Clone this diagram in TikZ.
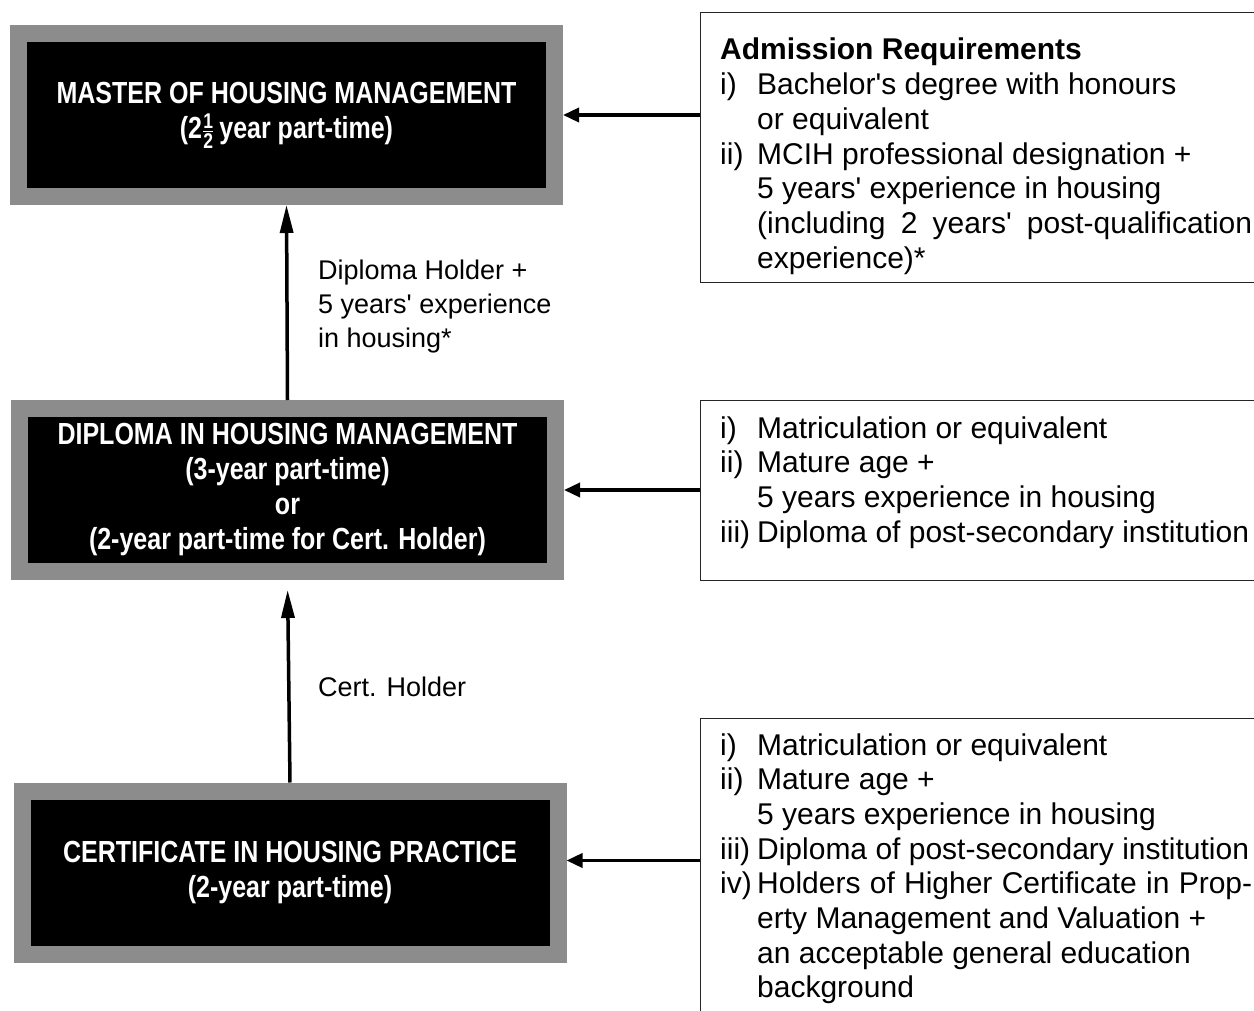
\documentclass[tikz,border=0pt]{standalone}
\usepackage{amsmath}
\usepackage{fontspec}
\setmainfont{Liberation Sans}[Ligatures=TeXOff]
\newfontfamily\boxfont[FakeStretch=0.82]{Liberation Sans}
\usetikzlibrary{arrows.meta}

\tikzset{
  course/.style={draw=black!45, line width=17pt, fill=black, text=white,
    font=\boxfont\bfseries\fontsize{30.5}{35}\selectfont, align=center,
    minimum width=536pt, minimum height=163pt, inner sep=0pt},
  reqbox/.style={draw=black!85, line width=1pt, anchor=north west,
    minimum width=600pt, inner sep=0pt},
  reqtext/.style={anchor=base west, inner sep=0pt,
    font=\fontsize{30}{34.7}\selectfont},
  route/.style={anchor=west, align=left, inner sep=0pt,
    font=\fontsize{27}{34}\selectfont},
  upflow/.style={line width=3.5pt, -{Triangle[length=28pt,width=13pt]}},
  inflow/.style={line width=3.5pt, -{Triangle[length=16pt,width=14pt]}}
}

\begin{document}
\begin{tikzpicture}[x=1pt,y=-1pt]
	\useasboundingbox (0,0) rectangle (1254,1011);
	\clip (0,0) rectangle (1254,1011);

	% the three courses
	\node[course] (master) at (286.5,115) {MASTER OF HOUSING MANAGEMENT\\
		(2$\frac{\text{1}}{\text{2}}$\,year part-time)};
	\node[course] (diploma) at (287.5,490) {DIPLOMA IN HOUSING MANAGEMENT\\
		(3-year part-time)\\ or\\ (2-year part-time for Cert. Holder)};
	\node[course] (cert) at (290,872.5) {CERTIFICATE IN HOUSING PRACTICE\\
		(2-year part-time)};

	% admission requirements
	\node[reqbox, minimum height=270pt] (req1) at (700,12) {};
	\node[reqtext] (req1txt) at (720,60) {\begin{tabular}[t]{@{}p{37pt}@{}l@{}}
		\multicolumn{2}{@{}l@{}}{\bfseries Admission Requirements}\\
		i) & Bachelor's degree with honours\\
		   & or equivalent\\
		ii) & MCIH professional designation +\\
		    & 5 years' experience in housing\\
		    & \makebox[495pt][s]{(including 2 years' post-qualification}\\
		    & experience)*
		\end{tabular}};

	\node[reqbox, minimum height=180pt] (req2) at (700,400) {};
	\node[reqtext] (req2txt) at (720,438) {\begin{tabular}[t]{@{}p{37pt}@{}l@{}}
		i) & Matriculation or equivalent\\
		ii) & Mature age +\\
		    & 5 years experience in housing\\
		iii) & Diploma of post-secondary institution
		\end{tabular}};

	\node[reqbox, minimum height=330pt] (req3) at (700,718) {};
	\node[reqtext] (req3txt) at (720,755) {\begin{tabular}[t]{@{}p{37pt}@{}l@{}}
		i) & Matriculation or equivalent\\
		ii) & Mature age +\\
		    & 5 years experience in housing\\
		iii) & Diploma of post-secondary institution\\
		iv) & \makebox[495pt][s]{Holders of Higher Certificate in Prop-}\\
		    & erty Management and Valuation +\\
		    & an acceptable general education\\
		    & background
		\end{tabular}};

	% routes between courses
	\draw[upflow] (diploma.north) -- (master.south);
	\draw[upflow, shorten >=10pt] (cert.north) -- (diploma.south);
	\node[route] (dipholder) at (318,307) {Diploma Holder +\\
		5 years' experience\\ in housing*};
	\node[route] (certholder) at (318,687) {Cert. Holder};

	% requirements feed each course
	\coordinate (certin) at ([yshift=12pt]cert.east);
	\draw[inflow] (req1.west |- master.east) -- (master.east);
	\draw[inflow] (req2.west |- diploma.east) -- (diploma.east);
	\draw[inflow] (req3.west |- certin) -- (certin);
\end{tikzpicture}
\end{document}
